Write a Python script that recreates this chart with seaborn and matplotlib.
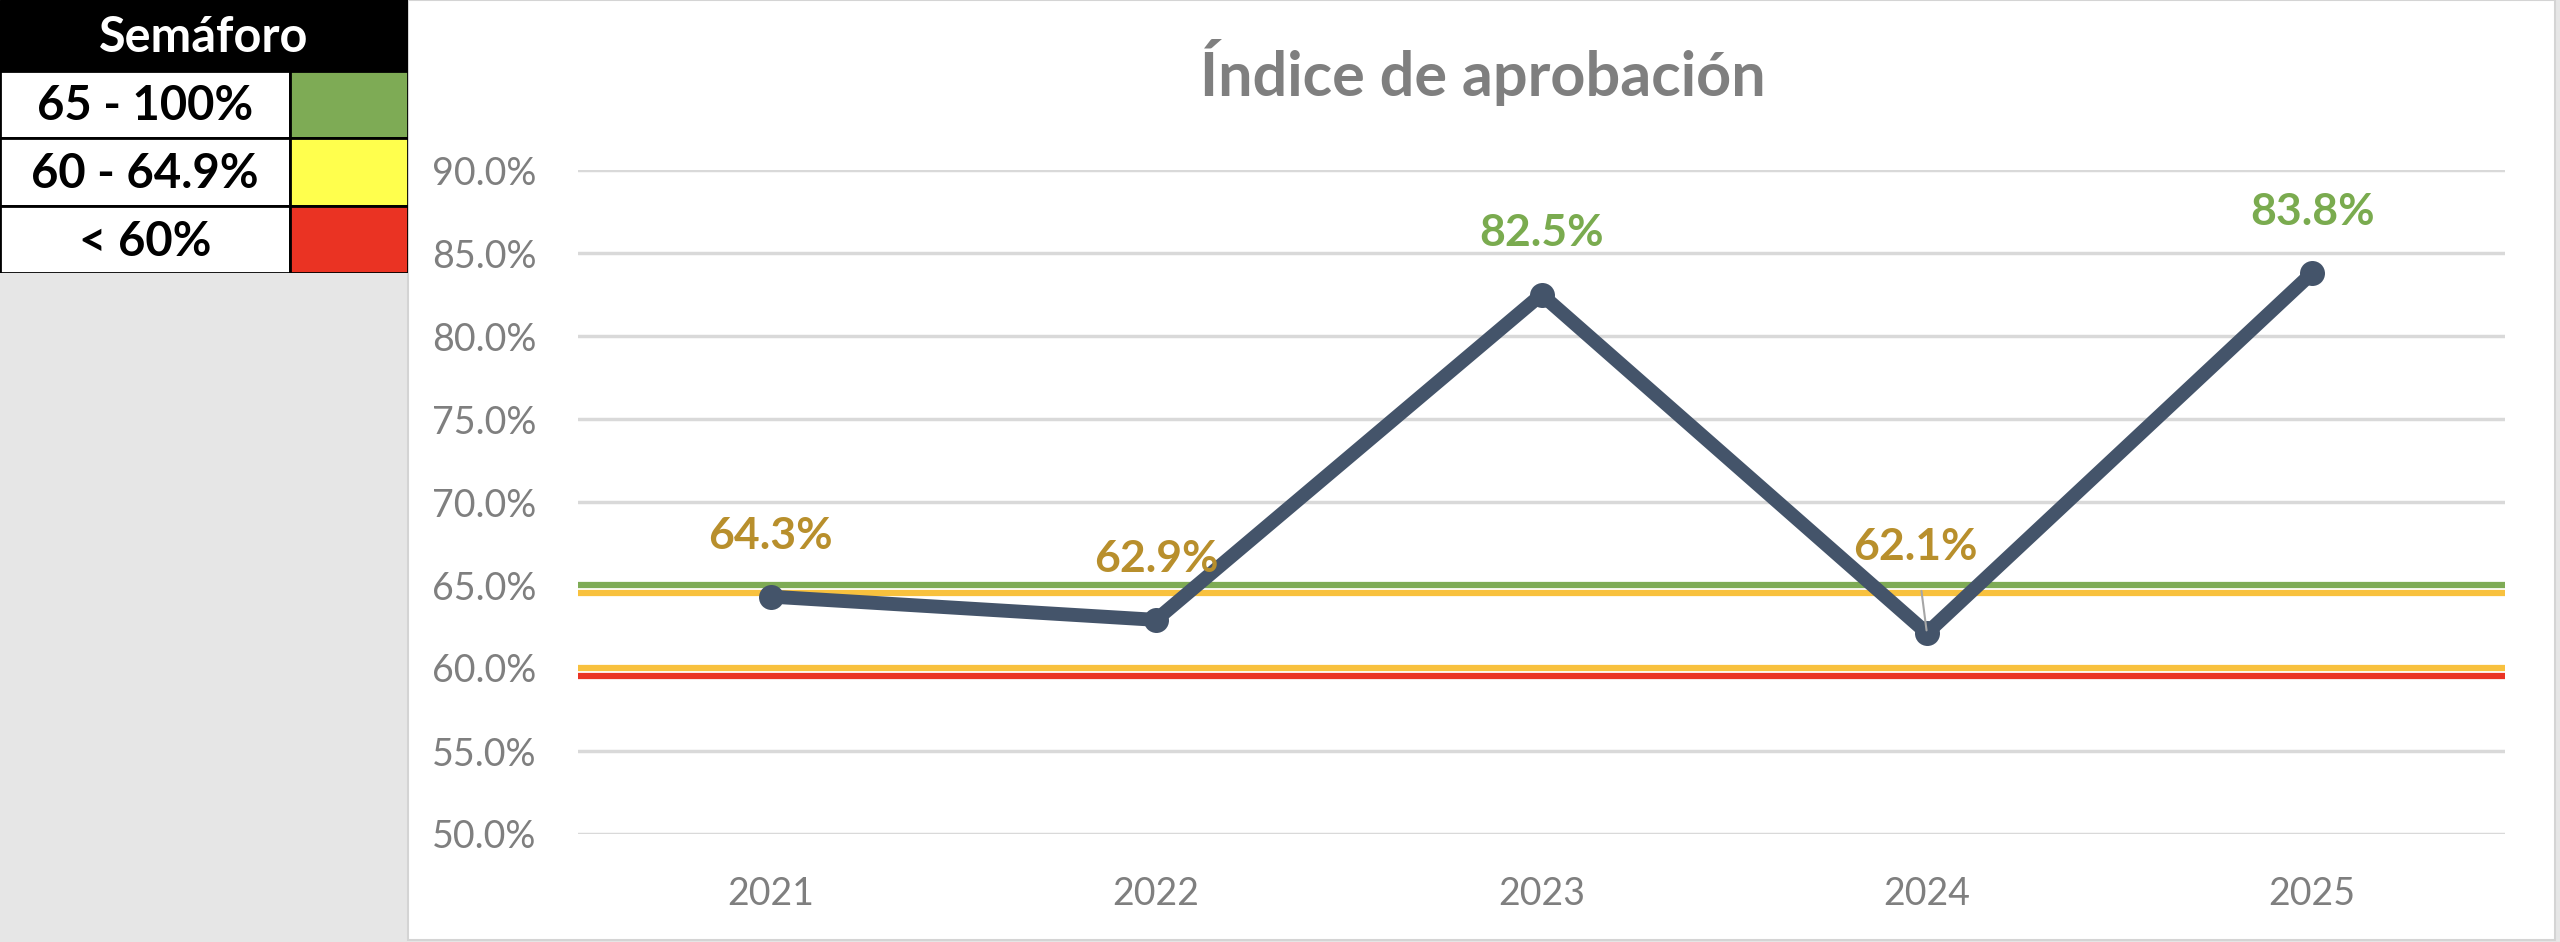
import numpy as np
import matplotlib.pyplot as plt
import matplotlib.patches as patches
import seaborn as sns
import pandas as pd

# Datos del gráfico
anios = ['2021', '2022', '2023', '2024', '2025']
indice = [64.3, 62.9, 82.5, 62.1, 83.8]

# Líneas del semáforo (valor, color)
umbrales = [65.0, 64.5, 60.0, 59.5]
colores_umbral = ['#7EAB55', '#F8C13E', '#F8C13E', '#EA3323']

# Tabla del semáforo
rangos = ['65 - 100%', '60 - 64.9%', '< 60%']
colores_rango = ['#7EAB55', '#FFFF4D', '#EA3323']

ticks_y = np.arange(50, 91, 5)

W, H = 2560, 942


def color_etiqueta(v):
    if v >= 65:
        return '#7AAB4F'
    if v >= 60:
        return '#B88F2C'
    return '#EA3323'


sns.set_theme(style='white')
plt.rcParams['font.family'] = ['Lato', 'DejaVu Sans']

fig = plt.figure(figsize=(W / 100, H / 100), dpi=100)
fig.patch.set_facecolor('#E6E6E6')

# Panel blanco del gráfico
fig.add_artist(patches.Rectangle((408 / W, 2 / H), (2555 - 408) / W, (H - 2) / H,
                                 transform=fig.transFigure, facecolor='white',
                                 edgecolor='#D4D4D4', linewidth=1.5, zorder=0))

# Tabla "Semáforo"
tab = fig.add_axes([0, 1 - 273 / H, 408 / W, 273 / H])
tab.set_xlim(0, 408)
tab.set_ylim(273, 0)
tab.axis('off')
tab.add_patch(patches.Rectangle((0, 0), 408, 71, facecolor='black', edgecolor='black'))
tab.text(204, 38, 'Semáforo', color='white', fontsize=35, fontweight='bold',
         ha='center', va='center')
fila_y = [71, 138, 206]
for i, (r, c) in enumerate(zip(rangos, colores_rango)):
    y0 = fila_y[i]
    alto = (fila_y[i + 1] if i + 1 < len(fila_y) else 273) - y0
    tab.add_patch(patches.Rectangle((0, y0), 290, alto, facecolor='white',
                                    edgecolor='black', linewidth=2))
    tab.add_patch(patches.Rectangle((290, y0), 118, alto, facecolor=c,
                                    edgecolor='black', linewidth=2))
    tab.text(145, y0 + alto / 2 + 2, r, color='black', fontsize=34,
             fontweight='bold', ha='center', va='center')

# Gráfico de línea
ax = fig.add_axes([578 / W, 1 - 834 / H, (2505 - 578) / W, (834 - 170) / H])
ax.set_facecolor('none')

df = pd.DataFrame({'Año': anios, 'Índice': indice})

for u, c in zip(umbrales, colores_umbral):
    ax.axhline(u, color=c, linewidth=4.5, zorder=2, solid_capstyle='round')

sns.lineplot(data=df, x='Año', y='Índice', ax=ax, color='#44546A', linewidth=10,
             marker='o', markersize=18, markeredgewidth=0, zorder=3, sort=False)

for i, v in enumerate(indice):
    if anios[i] == '2024':
        # etiqueta desplazada con línea guía
        ax.annotate(f'{v:.1f}%', xy=(i, v), xytext=(-8, 62), textcoords='offset points',
                    ha='center', va='center', fontsize=32, fontweight='bold',
                    color=color_etiqueta(v), zorder=4,
                    arrowprops=dict(arrowstyle='-', color='#A6A6A6', lw=1.5,
                                    shrinkA=15, shrinkB=2))
    else:
        ax.annotate(f'{v:.1f}%', xy=(i, v), xytext=(0, 44), textcoords='offset points',
                    ha='center', va='center', fontsize=32, fontweight='bold',
                    color=color_etiqueta(v), zorder=4)

ax.set_xlim(-0.5, len(anios) - 0.5)
ax.set_ylim(50, 90)
ax.set_yticks(ticks_y)
ax.set_yticklabels([f'{t:.1f}%' for t in ticks_y])
ax.grid(axis='y', color='#D9D9D9', linewidth=2.5)
ax.grid(axis='x', visible=False)
ax.set_axisbelow(True)
for s in ax.spines.values():
    s.set_visible(False)
ax.tick_params(axis='both', length=0, labelsize=27, labelcolor='#7F7F7F')
ax.tick_params(axis='y', pad=30)
ax.tick_params(axis='x', pad=30)
ax.set_xlabel('')
ax.set_ylabel('')

fig.text(1483 / W, 1 - 73 / H, 'Índice de aprobación', ha='center', va='center',
         fontsize=44, fontweight='bold', color='#7F7F7F')

fig.savefig('out.png', dpi=100, facecolor=fig.get_facecolor())
